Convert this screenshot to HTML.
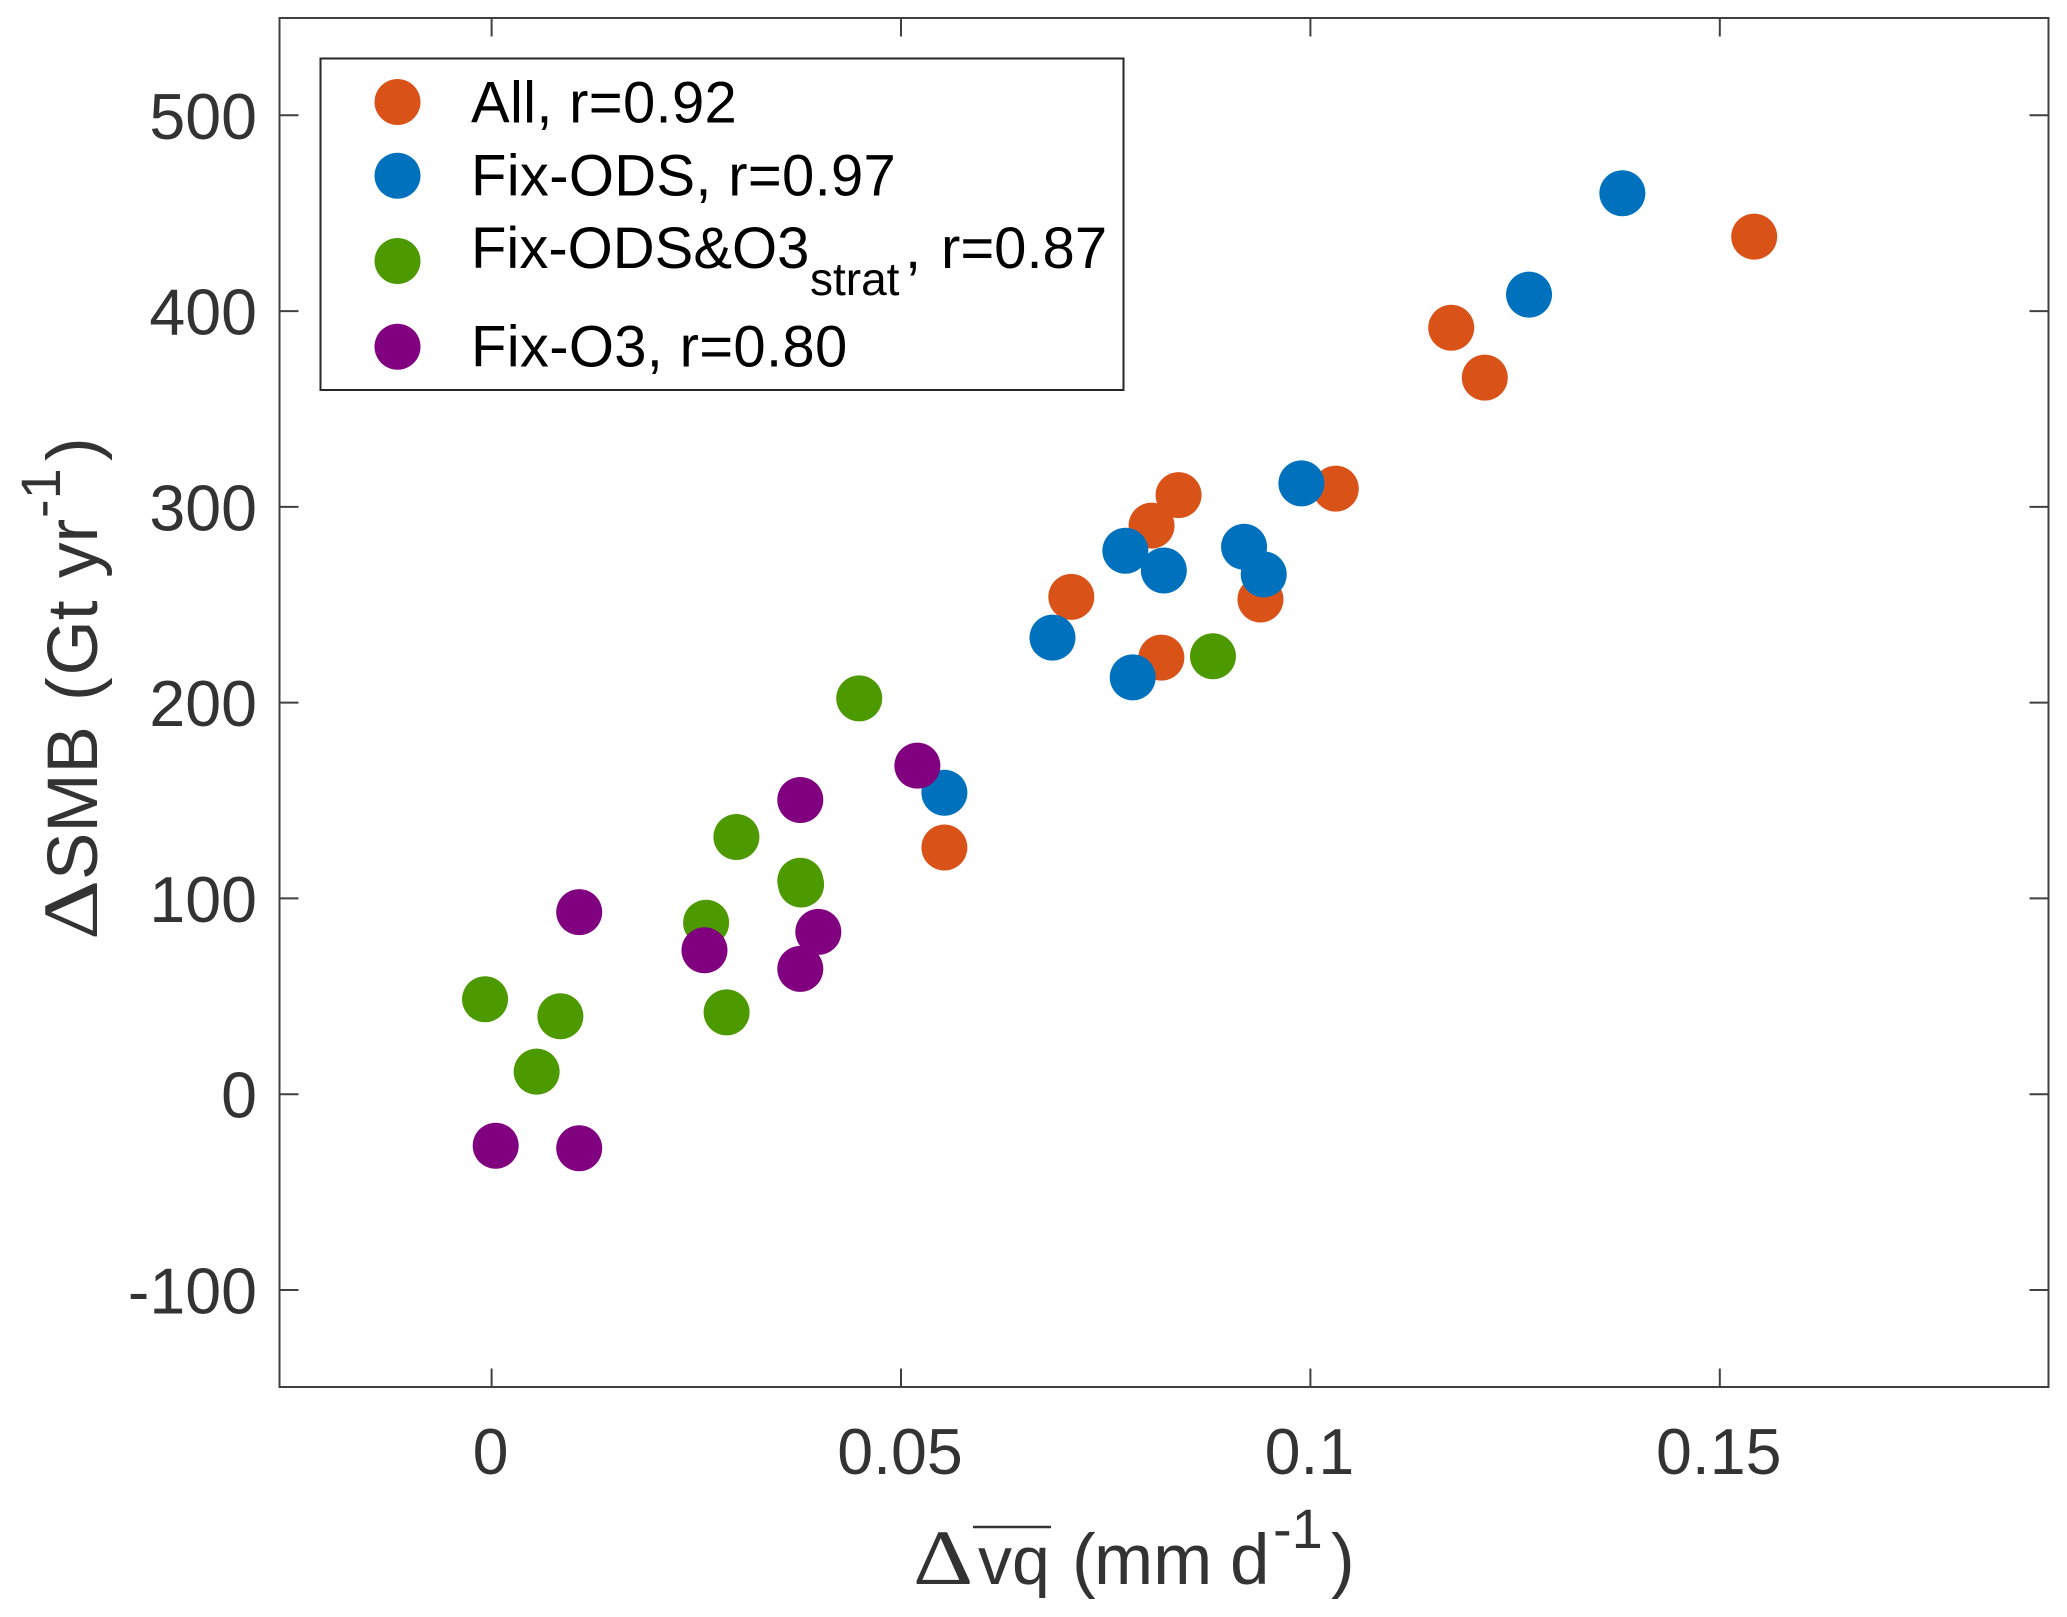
<!DOCTYPE html>
<html lang="en">
<head>
<meta charset="utf-8">
<title>SMB change versus moisture flux scatter</title>
<style>
html,body{margin:0;padding:0;background:#fff}
svg{display:block}
text{font-family:"Liberation Sans",Arial,sans-serif;font-kerning:none}
text.delta{font-family:"Liberation Serif","Liberation Sans",serif}
text.wide{letter-spacing:0.3px}
</style>
</head>
<body>
<svg id="chart" xmlns="http://www.w3.org/2000/svg" width="2067" height="1617" viewBox="0 0 2067 1617">
  <rect x="0" y="0" width="2067" height="1617" fill="#fff"/>
  <g id="ticks"></g>
  <g id="tick-labels" fill="#333" font-size="64.5"></g>
  <g id="marks"></g>
  <rect x="279.5" y="18" width="1769" height="1369" fill="none" stroke="#404040" stroke-width="2"/>

  <g fill="#333" font-size="71">
    <text class="delta" transform="translate(913,1584) scale(1.2,1)" font-size="78">Δ</text>
    <text x="978" y="1584" font-size="68">vq</text>
    <line x1="973" x2="1051" y1="1527" y2="1527" stroke="#333" stroke-width="2.5"/>
    <text x="1072" y="1584">(</text>
    <text x="1094" y="1584">mm</text>
    <text x="1230" y="1584">d</text>
    <text x="1273" y="1548" font-size="56">-1</text>
    <text x="1331" y="1584">)</text>
  </g>

  <g fill="#333" font-size="71">
    <text class="delta" transform="translate(97,940) rotate(-90) scale(1.2,1)" font-size="78">Δ</text>
    <text transform="translate(97,880) rotate(-90)">SMB</text>
    <text transform="translate(97,701) rotate(-90)">(</text>
    <text transform="translate(97,675.5) rotate(-90)">Gt</text>
    <text transform="translate(97,578) rotate(-90)">yr</text>
    <text transform="translate(60,518) rotate(-90)" font-size="56">-1</text>
    <text transform="translate(97,461) rotate(-90)">)</text>
  </g>

  <g>
    <rect x="320.5" y="58.5" width="803" height="331.5" fill="#fff" stroke="#262626" stroke-width="2"/>
    <g>
      <circle cx="397.5" cy="102" r="23" fill="#D95319"/>
      <text class="wide" x="471" y="122.5" font-size="58" fill="#000">All, r=0.92</text>
    </g>
    <g>
      <circle cx="397.5" cy="175.7" r="23" fill="#0072BD"/>
      <text class="wide" x="471" y="195.5" font-size="58" fill="#000">Fix-ODS, r=0.97</text>
    </g>
    <g>
      <circle cx="397.5" cy="261" r="23" fill="#4C9900"/>
      <text x="471" y="268" font-size="58" fill="#000">Fix-ODS&amp;O3</text>
      <text x="810" y="295" font-size="46" fill="#000">strat</text>
      <text x="905" y="268" font-size="58" fill="#000">,</text>
      <text x="941" y="268" font-size="58" fill="#000">r=0.87</text>
    </g>
    <g>
      <circle cx="397.5" cy="346.7" r="23" fill="#800080"/>
      <text class="wide" x="471" y="366.5" font-size="58" fill="#000">Fix-O3, r=0.80</text>
    </g>
  </g>
</svg>
<script>
var xTicks = [0, 0.05, 0.1, 0.15];
var xTickLabels = ["0", "0.05", "0.1", "0.15"];
var yTicks = [-100, 0, 100, 200, 300, 400, 500];
var yTickLabels = ["-100", "0", "100", "200", "300", "400", "500"];

var allX = [0.1542, 0.1172, 0.1213, 0.1031, 0.0839, 0.0806, 0.0708, 0.0939, 0.0818, 0.0553];
var allY = [438, 391.5, 366, 309.3, 306, 290.4, 254, 252.7, 223, 126];
var fixOdsX = [0.1381, 0.1267, 0.0989, 0.0774, 0.0919, 0.0821, 0.0943, 0.0685, 0.0783, 0.0553];
var fixOdsY = [460.2, 408.4, 312, 277.6, 279.6, 267.5, 265.5, 233.2, 212.9, 154];
var fixOdsO3X = [0.0881, 0.0449, 0.0299, 0.0378, 0.0377, 0.0262, 0.0287, -0.0008, 0.0084, 0.0055];
var fixOdsO3Y = [223.7, 202.2, 131.4, 107.1, 109, 87.6, 41.8, 48.5, 39.8, 11.5];
var fixO3X = [0.052, 0.0377, 0.0399, 0.026, 0.0377, 0.0107, 0.0005, 0.0107];
var fixO3Y = [167.8, 150.3, 82.9, 73.5, 64, 93, -26.3, -27.6];

function xScale(v) { return 491.6 + v * 8188; }
function yScale(v) { return 1094.2 - v * 1.9578; }

var NS = 'http://www.w3.org/2000/svg';
var tickGroup = document.getElementById('ticks');
var labelGroup = document.getElementById('tick-labels');
var markGroup = document.getElementById('marks');

function tickLine(x1, y1, x2, y2, name) {
  var el = document.createElementNS(NS, 'line');
  el.setAttribute('x1', x1);
  el.setAttribute('y1', y1);
  el.setAttribute('x2', x2);
  el.setAttribute('y2', y2);
  el.setAttribute('stroke', '#404040');
  el.setAttribute('stroke-width', '2');
  
  
  tickGroup.appendChild(el);
}

xTicks.forEach(function (t, i) {
  var x = xScale(t);
  tickLine(x, 18, x, 36.5, 'x-tick-top');
  tickLine(x, 1387, x, 1368.5, 'x-tick-bottom');
  var el = document.createElementNS(NS, 'text');
  el.setAttribute('x', x - 1);
  el.setAttribute('y', 1474);
  el.setAttribute('text-anchor', 'middle');
  
  
  el.textContent = xTickLabels[i];
  labelGroup.appendChild(el);
});

yTicks.forEach(function (t, i) {
  var y = yScale(t);
  tickLine(279.5, y, 298.5, y, 'y-tick-left');
  tickLine(2048.5, y, 2029.5, y, 'y-tick-right');
  var el = document.createElementNS(NS, 'text');
  el.setAttribute('x', 257);
  el.setAttribute('y', y + 23.5);
  el.setAttribute('text-anchor', 'end');
  
  
  el.textContent = yTickLabels[i];
  labelGroup.appendChild(el);
});

function drawAll(xs, ys, color) {
  xs.forEach(function (v, i) {
    var el = document.createElementNS(NS, 'circle');
    el.setAttribute('cx', xScale(v));
    el.setAttribute('cy', yScale(ys[i]));
    el.setAttribute('r', 23);
    el.setAttribute('fill', color);
    
    
    markGroup.appendChild(el);
  });
}

drawAll(allX, allY, '#D95319');
drawAll(fixOdsX, fixOdsY, '#0072BD');
drawAll(fixOdsO3X, fixOdsO3Y, '#4C9900');
drawAll(fixO3X, fixO3Y, '#800080');
</script>
</body>
</html>
